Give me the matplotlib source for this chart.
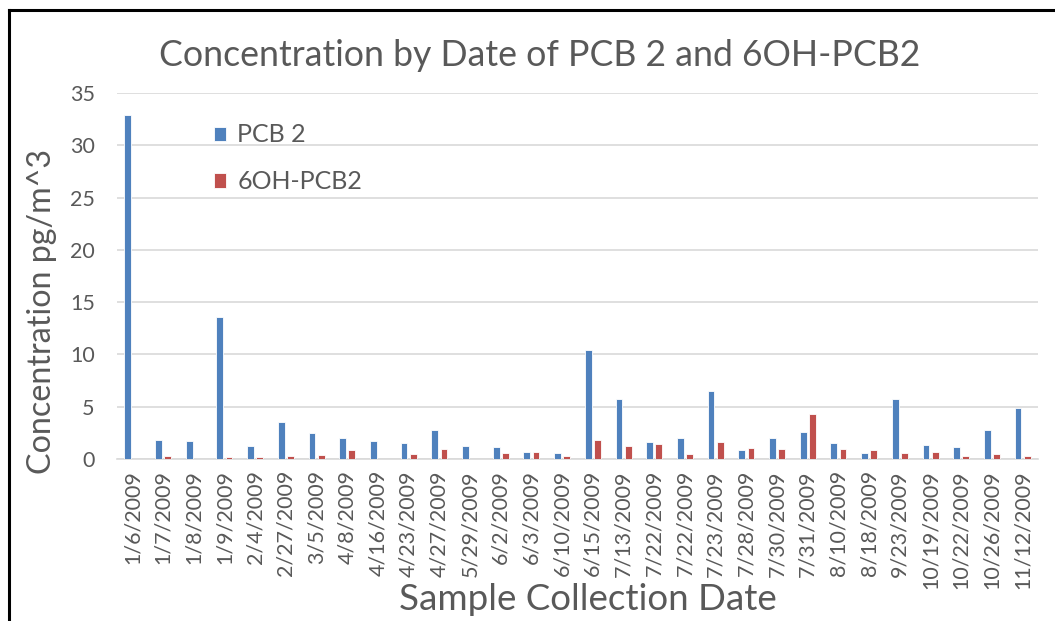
import matplotlib
matplotlib.use("Agg")
import matplotlib.pyplot as plt
import numpy as np
from matplotlib.lines import Line2D

# sample dates and measured concentrations (pg/m^3)
dates = ["1/6/2009", "1/7/2009", "1/8/2009", "1/9/2009", "2/4/2009", "2/27/2009",
         "3/5/2009", "4/8/2009", "4/16/2009", "4/23/2009", "4/27/2009", "5/29/2009",
         "6/2/2009", "6/3/2009", "6/10/2009", "6/15/2009", "7/13/2009", "7/22/2009",
         "7/22/2009", "7/23/2009", "7/28/2009", "7/30/2009", "7/31/2009", "8/10/2009",
         "8/18/2009", "9/23/2009", "10/19/2009", "10/22/2009", "10/26/2009", "11/12/2009"]
pcb2 = [32.9, 1.8, 1.7, 13.6, 1.2, 3.5,
        2.5, 2.0, 1.7, 1.5, 2.8, 1.2,
        1.1, 0.7, 0.6, 10.4, 5.7, 1.6,
        2.0, 6.5, 0.9, 2.0, 2.6, 1.5,
        0.6, 5.7, 1.3, 1.1, 2.8, 4.9]
oh_pcb2 = [0.0, 0.3, 0.0, 0.15, 0.15, 0.3,
           0.4, 0.9, 0.0, 0.5, 0.95, 0.0,
           0.6, 0.7, 0.25, 1.8, 1.2, 1.4,
           0.5, 1.65, 1.05, 0.95, 4.3, 0.95,
           0.85, 0.6, 0.7, 0.25, 0.5, 0.25]

BLUE = "#4F81BD"
RED = "#C0504D"
TEXT = "#595959"
GRID = "#d9d9d9"

plt.rcParams["font.family"] = ["Lato", "DejaVu Sans"]

W, H = 1055, 621
fig = plt.figure(figsize=(W / 100, H / 100), dpi=100)
ax = fig.add_axes([117 / W, 1 - 459 / H, (1038 - 117) / W, (459 - 93) / H])

x = np.arange(len(dates))
ax.bar(x - 0.15, pcb2, width=0.22, color=BLUE, edgecolor="white",
       linewidth=0.6, label="PCB 2", zorder=3)
ax.bar(x + 0.15, oh_pcb2, width=0.22, color=RED, edgecolor="white",
       linewidth=0.6, label="6OH-PCB2", zorder=3)

ax.set_xlim(-0.5, len(dates) - 0.5)
ax.set_ylim(0, 35)
ax.set_yticks(range(0, 36, 5))
ax.set_xticks(x)
ax.set_xticklabels(dates, rotation=90, fontsize=15.5, color=TEXT)
ax.tick_params(axis="y", labelsize=15.5, labelcolor=TEXT, length=0, pad=16)
ax.tick_params(axis="x", length=0, pad=8)
ax.grid(axis="y", color=GRID, linewidth=1.2, zorder=0)
ax.set_axisbelow(True)
for side in ("top", "left", "right"):
    ax.spines[side].set_visible(False)
ax.spines["bottom"].set_color(GRID)
ax.spines["bottom"].set_linewidth(1.2)

leg = ax.legend(loc="upper left", bbox_to_anchor=(196 / W, 1 - 106 / H),
                bbox_transform=fig.transFigure, frameon=False, fontsize=18,
                handlelength=0.5, handleheight=0.5, handletextpad=0.45,
                labelspacing=0.95, borderpad=0.2)
for t in leg.get_texts():
    t.set_color(TEXT)

fig.text(540 / W, 1 - 55 / H, "Concentration by Date of PCB 2 and 6OH-PCB2",
         ha="center", va="center", fontsize=25.7, color=TEXT)
fig.text(42 / W, 1 - 312 / H, "Concentration pg/m^3", rotation=90,
         ha="center", va="center", fontsize=23.2, color=TEXT)
fig.text(588 / W, 1 - 600 / H, "Sample Collection Date",
         ha="center", va="center", fontsize=26.5, color=TEXT)

# chart frame (left and top edges)
fig.add_artist(Line2D([9 / W, 9 / W], [0, 1 - 10 / H], transform=fig.transFigure,
                      color="black", linewidth=2.2))
fig.add_artist(Line2D([9 / W, 1], [1 - 10 / H, 1 - 10 / H], transform=fig.transFigure,
                      color="black", linewidth=2.2))

fig.savefig("out.png", dpi=100)
